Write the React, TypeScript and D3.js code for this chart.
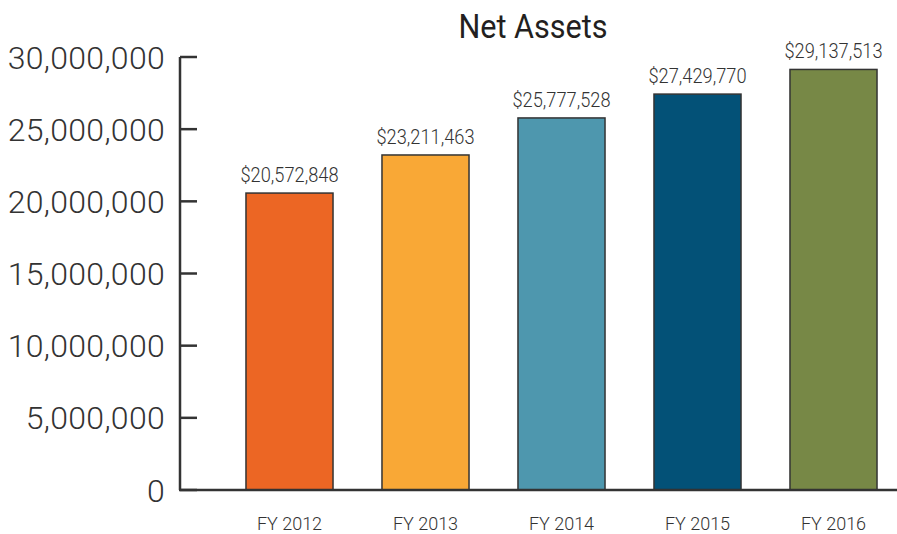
import * as d3 from "d3";

const categories = ["FY 2012", "FY 2013", "FY 2014", "FY 2015", "FY 2016"];
const netAssets = [20572848, 23211463, 25777528, 27429770, 29137513];
const barColors = ["#ec6624", "#f9a836", "#4e97ae", "#035177", "#778846"];
const yTicks = [0, 5000000, 10000000, 15000000, 20000000, 25000000, 30000000];

const width = 897;
const height = 534;

const App = () => {
  const x = d3
    .scaleBand<string>()
    .domain(categories)
    .range([221.5, 901.5])
    .paddingInner(0.36)
    .paddingOuter(0.18);

  const y = d3.scaleLinear().domain([0, 30000000]).range([490, 57]);

  const fmtTick = d3.format(",");
  const fmtValue = (v: number) => "$" + d3.format(",")(v);

  return (
    <svg
      width={width}
      height={height}
      style={{ position: "absolute", left: 0, top: 0, background: "#fff" }}
    >
      {/* title */}
      <text
        x={533}
        y={38}
        textAnchor="middle"
        fontFamily="Roboto"
        fontWeight={400}
        fontSize={34}
        fill="#231f20"
        transform="translate(533,0) scale(0.9,1) translate(-533,0)"
      >
        Net Assets
      </text>

      {/* bars */}
      {categories.map((c, i) => (
        <rect
          key={c}
          x={x(c)}
          y={y(netAssets[i])}
          width={x.bandwidth()}
          height={y(0) - y(netAssets[i])}
          fill={barColors[i]}
          stroke="#333"
          strokeWidth={1.5}
        />
      ))}

      {/* value labels */}
      {categories.map((c, i) => {
        const cx = (x(c) ?? 0) + x.bandwidth() / 2;
        return (
          <text
            key={c}
            x={cx}
            y={y(netAssets[i]) - 11}
            textAnchor="middle"
            fontFamily="Roboto"
            fontWeight={300}
            fontSize={20.5}
            fill="#333"
            transform={`translate(${cx},0) scale(0.89,1) translate(${-cx},0)`}
          >
            {fmtValue(netAssets[i])}
          </text>
        );
      })}

      {/* y axis */}
      <line x1={180} x2={180} y1={y(30000000)} y2={y(0)} stroke="#333" strokeWidth={2.5} />
      {yTicks.map((t) => (
        <g key={t}>
          <line x1={180} x2={197} y1={y(t)} y2={y(t)} stroke="#333" strokeWidth={2.5} />
          <text
            x={165}
            y={y(t) + 11.5}
            textAnchor="end"
            fontFamily="Roboto"
            fontWeight={300}
            fontSize={32}
            letterSpacing={0.3}
            fill="#333"
          >
            {fmtTick(t)}
          </text>
        </g>
      ))}

      {/* x axis */}
      <line x1={179} x2={width} y1={y(0)} y2={y(0)} stroke="#333" strokeWidth={2.5} />
      {categories.map((c) => (
        <text
          key={c}
          x={(x(c) ?? 0) + x.bandwidth() / 2}
          y={530}
          textAnchor="middle"
          fontFamily="Roboto"
          fontWeight={300}
          fontSize={18}
          fill="#333"
        >
          {c}
        </text>
      ))}
    </svg>
  );
};

export default App;
